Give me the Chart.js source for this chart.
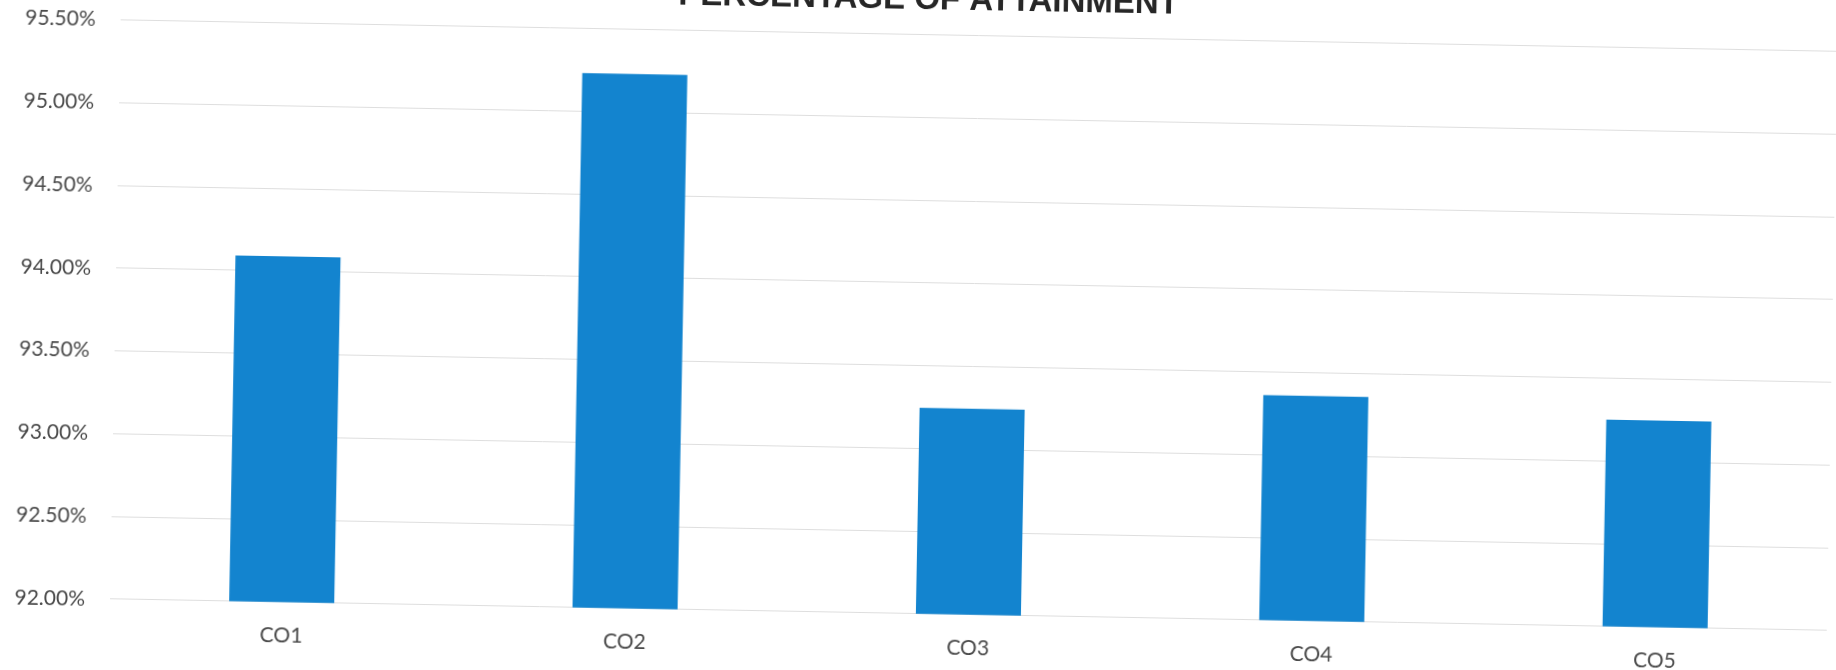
<!DOCTYPE html>
<html>
<head>
<meta charset="utf-8">
<script src="https://cdn.jsdelivr.net/npm/chart.js@4.4.1/dist/chart.umd.min.js"></script>
<style>
  html, body { margin: 0; padding: 0; background: #ffffff; overflow: hidden; width: 1836px; height: 670px; }
  #wrap { position: absolute; left: 0; top: -30px; width: 1836px; height: 721px;
          transform: rotate(1.05deg); transform-origin: 918px 365px; }
</style>
</head>
<body>
<div id="wrap"><canvas id="c" width="1836" height="721"></canvas></div>
<script>
const chartTitle = 'PERCENTAGE OF ATTAINMENT';
const categories = ['CO1', 'CO2', 'CO3', 'CO4', 'CO5'];
const attainment = [94.09, 95.23, 93.245, 93.36, 93.25];
const yMin = 92.0;
const yMax = 95.5;
const yStep = 0.5;

new Chart(document.getElementById('c'), {
  type: 'bar',
  data: {
    labels: categories,
    datasets: [{
      label: 'Attainment',
      data: attainment,
      backgroundColor: '#1384cf',
      borderWidth: 0,
      categoryPercentage: 1.0,
      barPercentage: 0.306
    }]
  },
  options: {
    responsive: false,
    animation: false,
    devicePixelRatio: 1,
    layout: { padding: { left: 13, right: 4, top: 0, bottom: 10 } },
    plugins: {
      legend: { display: false },
      tooltip: { enabled: false },
      title: {
        display: true,
        text: chartTitle,
        color: '#262626',
        font: { family: 'Liberation Sans', size: 33, weight: 'bold' },
        padding: { top: 10, bottom: 15 }
      }
    },
    scales: {
      x: {
        grid: { display: false, drawTicks: false },
        border: { display: false },
        ticks: {
          color: '#4a4a4a',
          padding: 21,
          font: { family: 'Lato', size: 21 }
        }
      },
      y: {
        min: yMin,
        max: yMax,
        afterFit: (s) => { s.width = 102; },
        grid: { color: '#dedede', lineWidth: 1, drawTicks: false },
        border: { display: false },
        ticks: {
          stepSize: yStep,
          color: '#4a4a4a',
          padding: 25,
          font: { family: 'Lato', size: 21 },
          callback: (v) => Number(v).toFixed(2) + '%'
        }
      }
    }
  }
});
</script>
</body>
</html>
